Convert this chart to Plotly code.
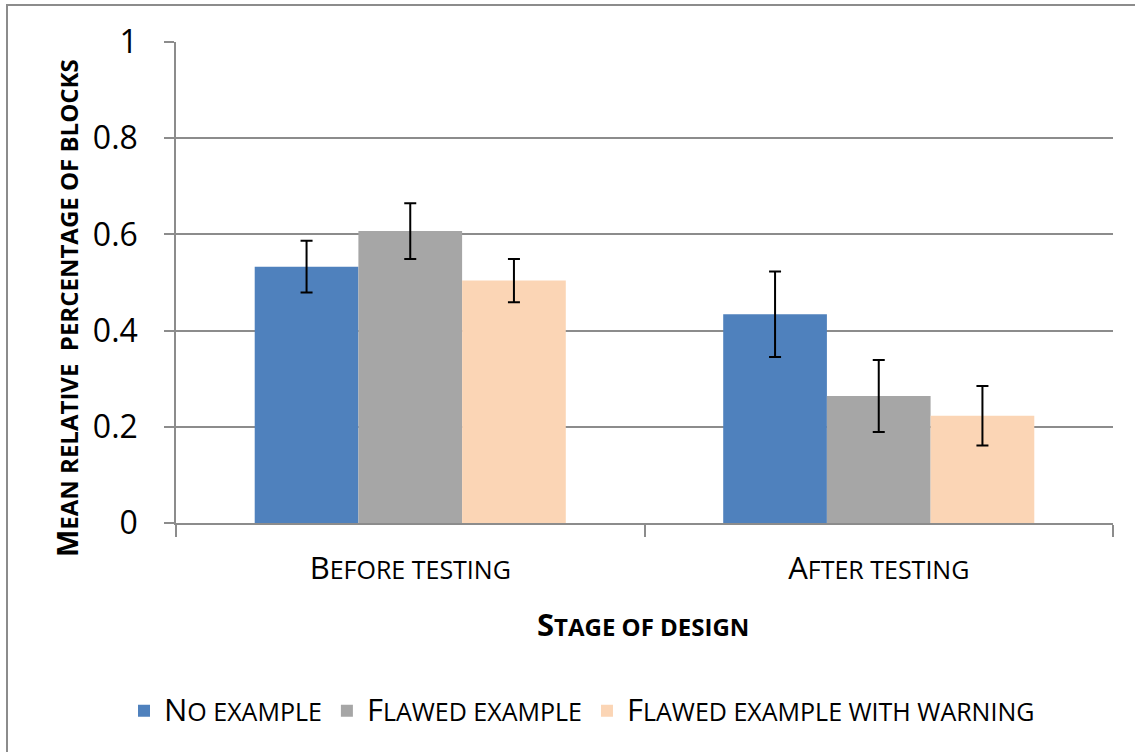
import plotly.graph_objects as go

categories = ["Before testing", "After testing"]
series_names = ["No example", "Flawed example", "Flawed example with warning"]
no_example = [0.533, 0.434]
flawed_example = [0.607, 0.264]
flawed_warning = [0.504, 0.223]
err_no = [0.054, 0.089]
err_flawed = [0.058, 0.075]
err_warning = [0.045, 0.062]
y_ticks = [0, 0.2, 0.4, 0.6, 0.8, 1]
y_tick_labels = ["0", "0.2", "0.4", "0.6", "0.8", "1"]

colors = ["#4F81BD", "#A6A6A6", "#FBD5B5"]
FONT = "'Open Sans', Lato, sans-serif"


def small_caps(text, big, small):
    first = text[0].upper()
    rest = text[1:].upper()
    return (f"<span style='font-size:{big}px'>{first}</span>"
            f"<span style='font-size:{small}px'>{rest}</span>")


cat_labels = [small_caps(c, 31, 25) for c in categories]
legend_labels = [small_caps(s, 31, 25) for s in series_names]

fig = go.Figure()
for name, vals, errs, col in zip(legend_labels, [no_example, flawed_example, flawed_warning],
                                  [err_no, err_flawed, err_warning], colors):
    fig.add_trace(go.Bar(
        x=cat_labels, y=vals, name=name,
        marker=dict(color=col, line=dict(width=0)),
        error_y=dict(type="data", array=errs, visible=True, color="black", thickness=2, width=6),
    ))

W, H = 1135, 752
L, R, T, B = 176, 22, 42, 229
pw, ph = W - L - R, H - T - B


def px_x(px):
    return (px - L) / pw


def px_y(py):
    return (H - B - py) / ph


fig.update_layout(
    width=W, height=H,
    margin=dict(l=L, r=R, t=T, b=B),
    paper_bgcolor="white", plot_bgcolor="white",
    barmode="group", bargap=0.336, bargroupgap=0,
    font=dict(family=FONT, color="black"),
    showlegend=True,
    legend=dict(orientation="h", x=px_x(582), xanchor="center", y=px_y(711), yanchor="middle",
                font=dict(size=25, family=FONT), itemsizing="constant", traceorder="normal",
                itemwidth=30),
    xaxis=dict(showline=True, linecolor="#8C8C8C", linewidth=1.5, ticks="outside",
               tickson="boundaries", ticklen=12, tickcolor="#8C8C8C", tickwidth=1.5,
               tickfont=dict(size=25, family=FONT), showgrid=False, ticklabelstandoff=24),
    yaxis=dict(range=[0, 1], tickvals=y_ticks, ticktext=y_tick_labels, showline=True,
               linecolor="#8C8C8C", linewidth=1.5, ticks="outside", ticklen=10,
               tickcolor="#8C8C8C", tickwidth=1.5, showgrid=True, gridcolor="#8C8C8C",
               gridwidth=1.5, tickfont=dict(size=32, family=FONT), zeroline=False,
               ticklabelstandoff=20),
    annotations=[
        dict(text="<b><span style='font-size:31px'>S</span><span style='font-size:24px'>TAGE OF DESIGN</span></b>",
             xref="paper", yref="paper", x=px_x(643), y=px_y(624), xanchor="center", yanchor="middle",
             showarrow=False, font=dict(family=FONT, color="black")),
        dict(text="<b><span style='font-size:29px'>M</span><span style='font-size:24px'>EAN RELATIVE  PERCENTAGE OF BLOCKS</span></b>",
             xref="paper", yref="paper", x=px_x(67), y=px_y(308), xanchor="center", yanchor="middle",
             textangle=-90, showarrow=False, font=dict(family=FONT, color="black")),
    ],
    shapes=[dict(type="rect", xref="paper", yref="paper", x0=px_x(7), x1=px_x(1145), y0=px_y(765), y1=px_y(5),
                 line=dict(color="#8C8C8C", width=2), fillcolor="rgba(0,0,0,0)", layer="below")],
)

fig.write_html("out.html", config={"displayModeBar": False},
               post_script="document.body.style.margin='0';")
